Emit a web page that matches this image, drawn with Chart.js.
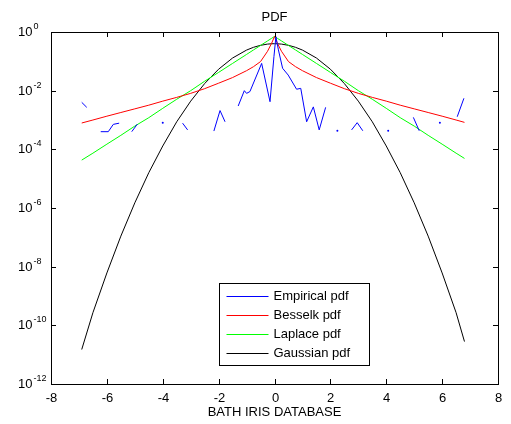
<!DOCTYPE html>
<html>
<head>
<meta charset="utf-8">
<script src="https://cdn.jsdelivr.net/npm/chart.js@4/dist/chart.umd.min.js"></script>
<style>
  body { margin: 0; background: #fff; }
</style>
</head>
<body>
<canvas id="pdf" width="511" height="424"></canvas>
<script>
// x positions of the fitted curves
var curveX = [-6.9, -6.5, -6, -5.5, -5, -4.5, -4, -3.5, -3, -2.5, -2, -1.5, -1, -0.75, -0.5, -0.25, -0.1,
  0, 0.1, 0.25, 0.5, 0.75, 1, 1.5, 2, 2.5, 3, 3.5, 4, 4.5, 5, 5.5, 6, 6.5, 6.8];

var gaussianPdf = [1.5e-11, 2.7e-10, 6.1e-9, 1.1e-7, 1.5e-6, 1.6e-5, 1.3e-4, 8.7e-4, 4.4e-3, 1.75e-2, 5.4e-2, 0.13, 0.242, 0.301, 0.352, 0.387, 0.397,
  0.399, 0.397, 0.387, 0.352, 0.301, 0.242, 0.13, 5.4e-2, 1.75e-2, 4.4e-3, 8.7e-4, 1.3e-4, 1.6e-5, 1.5e-6, 1.1e-7, 6.1e-9, 2.7e-10, 2.8e-11];

var laplacePdf = [4.3e-5, 7.4e-5, 1.5e-4, 3.0e-4, 6.2e-4, 1.2e-3, 2.5e-3, 5.1e-3, 1.0e-2, 2.1e-2, 4.2e-2, 8.5e-2, 0.172, 0.245, 0.348, 0.496, 0.612,
  0.705, 0.612, 0.496, 0.348, 0.245, 0.172, 8.5e-2, 4.2e-2, 2.1e-2, 1.0e-2, 5.1e-3, 2.5e-3, 1.2e-3, 6.2e-4, 3.0e-4, 1.5e-4, 7.4e-5, 4.9e-5];

var besselkPdf = [7.9e-4, 1.0e-3, 1.35e-3, 1.8e-3, 2.4e-3, 3.2e-3, 4.4e-3, 5.9e-3, 8.1e-3, 1.17e-2, 1.8e-2, 2.8e-2, 4.8e-2, 6.6e-2, 9.8e-2, 0.22, 0.42,
  0.70, 0.42, 0.22, 9.8e-2, 6.6e-2, 4.8e-2, 2.8e-2, 1.8e-2, 1.17e-2, 8.1e-3, 5.9e-3, 4.4e-3, 3.2e-3, 2.4e-3, 1.8e-3, 1.35e-3, 1.0e-3, 8.3e-4];

// empirical histogram, null = empty bin (gap on the log axis)
var empiricalX = [-6.9, -6.72, -6.5, -6.22, -5.95, -5.77, -5.56, -5.3, -5.11, -4.91, -4.5, -4.0, -3.6,
  -3.29, -3.11, -2.7, -2.17, -1.95, -1.77, -1.5, -1.3, -1.08, -1.0, -0.88, -0.46, -0.16, -0.02,
  0.05, 0.14, 0.29, 0.49, 0.79, 0.94, 1.15, 1.39, 1.6, 1.83, 2.0, 2.25, 2.5, 2.76, 2.96, 3.16,
  3.6, 4.07, 4.5, 4.97, 5.18, 5.5, 5.92, 6.2, 6.54, 6.78];
var empiricalPdf = [4.0e-3, 2.7e-3, null, 4.0e-4, 4.0e-4, 7.1e-4, 7.8e-4, null, 4.0e-4, 7.2e-4, null, 8.1e-4, null,
  7.8e-4, 4.6e-4, null, 4.2e-4, 2.1e-3, 8.7e-4, null, 3.0e-3, 1.0e-2, 8.1e-3, 9.3e-3, 8.5e-2, 4.2e-3, 0.145,
  0.69, 0.245, 0.058, 0.034, 0.0112, 0.012, 8.7e-4, 2.8e-3, 4.6e-4, 2.7e-3, null, 4.3e-4, null, 4.6e-4, 8.1e-4, 4.3e-4,
  null, 4.3e-4, null, 1.23e-3, 4.3e-4, null, 8.1e-4, null, 1.29e-3, 5.5e-3];

var xTicks = [-8, -6, -4, -2, 0, 2, 4, 6, 8];
var yTickExps = [0, -2, -4, -6, -8, -10, -12];
var seriesNames = ["Empirical pdf", "Besselk pdf", "Laplace pdf", "Gaussian pdf"];
var seriesColors = ["#0000ff", "#ff0000", "#00ff00", "#000000"];

function pts(xs, ys) {
  return xs.map(function (x, i) { return { x: x, y: ys[i] }; });
}

var FONT = '"Liberation Sans", Arial, sans-serif';

// MATLAB style box, inward ticks, superscript labels and legend
var matlabFrame = {
  id: 'matlabFrame',
  afterDraw: function (chart) {
    var c = chart.ctx, a = chart.chartArea, sx = chart.scales.x, sy = chart.scales.y;
    c.save();
    c.strokeStyle = '#000';
    c.lineWidth = 1;
    c.strokeRect(Math.round(a.left) + 0.5, Math.round(a.top) + 0.5, Math.round(a.right - a.left), Math.round(a.bottom - a.top));

    c.fillStyle = '#000';
    c.font = '13px ' + FONT;
    c.textAlign = 'center';
    c.textBaseline = 'middle';
    c.beginPath();
    xTicks.forEach(function (t) {
      var px = Math.round(sx.getPixelForValue(t)) + 0.5;
      c.moveTo(px, a.bottom); c.lineTo(px, a.bottom - 5);
      c.moveTo(px, a.top); c.lineTo(px, a.top + 5);
      c.fillText(String(t), px, a.bottom + 14);
    });
    yTickExps.forEach(function (e) {
      var py = Math.round(sy.getPixelForValue(Math.pow(10, e))) + 0.5;
      c.moveTo(a.left, py); c.lineTo(a.left + 5, py);
      c.moveTo(a.right, py); c.lineTo(a.right - 5, py);
      c.textAlign = 'left';
      c.font = '13px ' + FONT;
      c.fillText('10', 18, py);
      var w = c.measureText('10').width;
      c.font = '9px ' + FONT;
      c.fillText(String(e), 18 + w + 1, py - 6);
    });
    c.stroke();

    c.font = '13px ' + FONT;
    c.textAlign = 'center';
    c.fillText('PDF', (a.left + a.right) / 2, 17);
    c.fillText('BATH IRIS DATABASE', (a.left + a.right) / 2, 412);

    // legend
    var lx = 219.5, ly = 283.5, lw = 150, lh = 82;
    c.fillStyle = '#fff';
    c.fillRect(lx, ly, lw, lh);
    c.strokeStyle = '#000';
    c.strokeRect(lx, ly, lw, lh);
    c.textAlign = 'left';
    seriesNames.forEach(function (name, i) {
      var yy = Math.round(ly + 12.5 + i * 19) + 0.5;
      c.strokeStyle = seriesColors[i];
      c.beginPath();
      c.moveTo(lx + 7, yy); c.lineTo(lx + 49, yy);
      c.stroke();
      c.fillStyle = '#000';
      c.fillText(name, lx + 54, yy);
    });
    c.restore();
  }
};

function isolated(ctx) {
  var d = ctx.dataset.data, i = ctx.dataIndex;
  var prev = i > 0 ? d[i - 1].y : null, next = i < d.length - 1 ? d[i + 1].y : null;
  return (prev === null && next === null) ? 1 : 0;
}

new Chart("pdf", {
  type: "scatter",
  data: {
    datasets: [
      { label: seriesNames[0], data: pts(empiricalX, empiricalPdf), borderColor: seriesColors[0], backgroundColor: seriesColors[0],
        showLine: true, borderWidth: 1, pointRadius: isolated, pointBorderWidth: 0, spanGaps: false },
      { label: seriesNames[1], data: pts(curveX, besselkPdf), borderColor: seriesColors[1], showLine: true, borderWidth: 1, pointRadius: 0 },
      { label: seriesNames[2], data: pts(curveX, laplacePdf), borderColor: seriesColors[2], showLine: true, borderWidth: 1, pointRadius: 0 },
      { label: seriesNames[3], data: pts(curveX, gaussianPdf), borderColor: seriesColors[3], showLine: true, borderWidth: 1, pointRadius: 0 }
    ]
  },
  options: {
    responsive: false,
    animation: false,
    layout: { padding: { left: 51, right: 13, top: 32, bottom: 40 } },
    plugins: { legend: { display: false }, tooltip: { enabled: false }, title: { display: false } },
    scales: {
      x: { type: "linear", min: -8, max: 8, display: false },
      y: { type: "logarithmic", min: 1e-12, max: 1, display: false }
    }
  },
  plugins: [matlabFrame]
});
</script>
</body>
</html>
